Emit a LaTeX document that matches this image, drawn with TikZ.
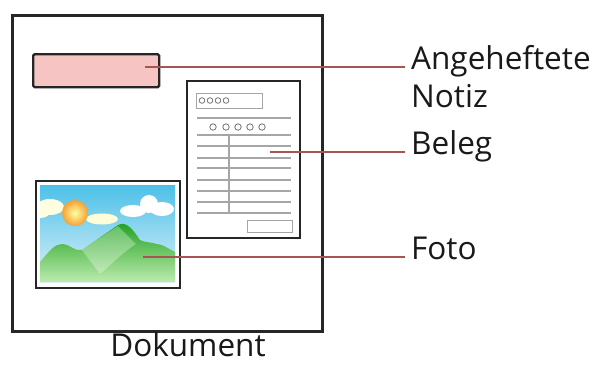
\documentclass[tikz,border=0pt]{standalone}
\usepackage{fontspec}
\setmainfont{Open Sans}
\usepackage{xcolor}
\usepackage{tikz}
\usetikzlibrary{positioning}

\definecolor{notepink}{HTML}{F7C4C4}
\definecolor{leaderred}{HTML}{A85454}
\definecolor{skyblue}{HTML}{4DC0E8}
\definecolor{skypale}{HTML}{DDF2F8}
\definecolor{hillgreen}{HTML}{1DA01D}
\definecolor{hillpale}{HTML}{BDEBAE}
\definecolor{sunorange}{HTML}{F6A030}

\begin{document}
\begin{tikzpicture}[
    x=1pt, y=-1pt,
    frame/.style={draw=black!85, line width=2.4pt, inner sep=0pt, anchor=north west},
    rule/.style={draw=black!35, line width=1.2pt},
    dots/.style={draw=black!55, line width=0.8pt},
    leader/.style={draw=leaderred, line width=2pt},
    lbl/.style={font=\fontsize{31.5}{38}\selectfont, text=black!90, inner ysep=0pt, inner xsep=6pt}
]
\useasboundingbox (0,0) rectangle (604,365);

% the sheet and what is on it
\node[frame, line width=2.8pt, minimum width=310pt, minimum height=316pt] (doc) at (11,14) {};

\node[frame, fill=notepink, rounded corners=1.5pt, minimum width=126pt, minimum height=33pt] (note) at (32,53) {};

\node[frame, fill=white, minimum width=113pt, minimum height=157pt] (receipt) at (186,80) {};

\node[frame, minimum width=144pt, minimum height=107pt] (photo) at (35,180) {};

% receipt print
\draw[rule, line width=1pt] (196,93) rectangle (262,108);
\foreach \x in {202,210,218,226}
    \draw[dots] (\x,100.5) circle (2.8pt);
\foreach \x in {213,226,238,250,262}
    \draw[dots] (\x,127) circle (3.2pt);
\foreach \y in {118,135,146,158,168,180,191,202,213}
    \draw[rule] (197,\y) -- (291,\y);
\draw[rule] (229,136) -- (229,213);
\draw[rule, line width=1pt] (247,220) rectangle (292,232);

% photo scene
\begin{scope}
\clip (40,185) rectangle (175,282);
\shade[top color=skyblue, bottom color=skypale] (40,185) rectangle (175,282);
\fill[yellow!12] (50,207) ellipse (14pt and 8pt);
\fill[yellow!12] (40,212) ellipse (10pt and 6pt);
\fill[yellow!15] (102,219) ellipse (16pt and 5.5pt);
\shade[inner color=yellow!35, outer color=sunorange] (75,213) circle (13pt);
\fill[white] (133,211) ellipse (13pt and 6pt);
\fill[white] (149,204) circle (9pt);
\fill[white] (162,209) ellipse (12pt and 7pt);
\shade[top color=hillgreen, bottom color=hillpale]
    (40,262) .. controls (50,250) and (55,244) .. (62,244)
    .. controls (70,244) and (75,252) .. (82,250) -- (118,225)
    .. controls (126,221) and (132,228) .. (140,240)
    .. controls (147,243) and (151,242) .. (157,244)
    .. controls (165,245) and (170,250) .. (175,252)
    -- (175,282) -- (40,282) -- cycle;
\fill[white, opacity=0.3] (82,250) -- (100,274)
    .. controls (110,266) and (118,256) .. (136,244) -- (118,226) -- cycle;
\end{scope}

% labels
\node[lbl, anchor=mid west] (note-lbl) at (405,67) {Angeheftete};
\node[lbl, below=38pt of note-lbl.base west, anchor=base west] (note-lbl2) {Notiz};
\node[lbl, anchor=mid west] (receipt-lbl) at (405,152) {Beleg};
\node[lbl, anchor=mid west] (photo-lbl) at (405,257) {Foto};
\node[lbl, anchor=base] (doc-lbl) at (188,356.5) {Dokument};

\coordinate (note-pin) at (145,67);
\coordinate (receipt-pin) at (270,152);
\coordinate (photo-pin) at (143,257);

\draw[leader] (note-pin) -- (note-lbl.mid west);
\draw[leader] (receipt-pin) -- (receipt-lbl.mid west);
\draw[leader] (photo-pin) -- (photo-lbl.mid west);

\end{tikzpicture}
\end{document}
